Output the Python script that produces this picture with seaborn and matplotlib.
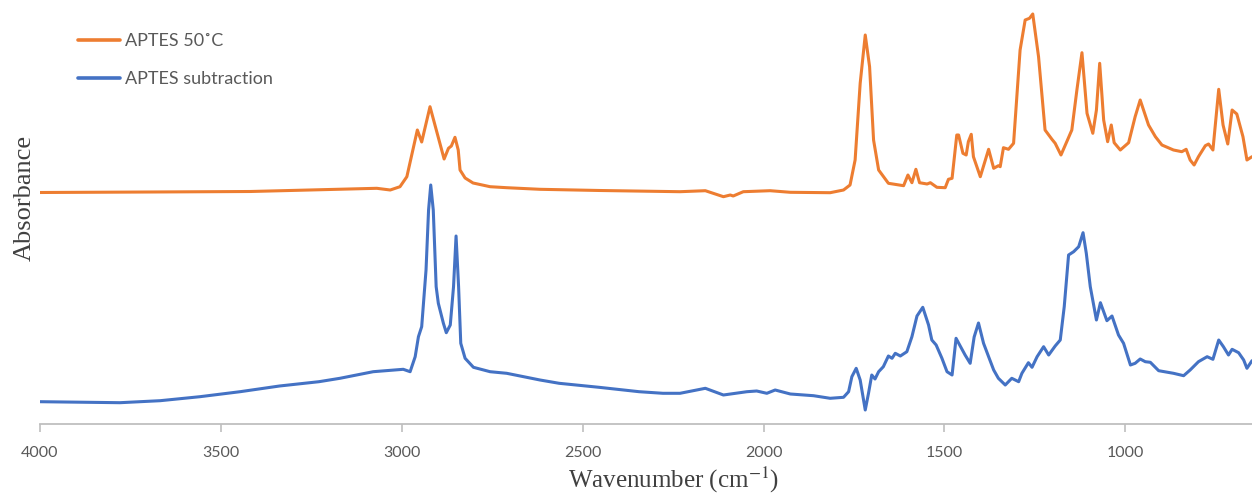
import numpy as np
import pandas as pd
import matplotlib
matplotlib.use("Agg")
import matplotlib.pyplot as plt
import seaborn as sns

# ---- data (wavenumber in cm-1, absorbance in arbitrary units) ----
aptes50_wn = [4000, 3696, 3419, 3069, 3032, 3005, 2986, 2957, 2945, 2922, 2883, 2871, 2863, 2853,
              2844, 2839, 2825, 2803, 2756, 2710, 2618, 2452, 2231, 2161, 2111, 2092, 2084, 2056,
              1982, 1926, 1816, 1779, 1761, 1747, 1733, 1719, 1707, 1696, 1682, 1655, 1613, 1601,
              1590, 1579, 1569, 1548, 1539, 1521, 1498, 1489, 1479, 1466, 1461, 1449, 1440, 1434,
              1426, 1420, 1401, 1378, 1364, 1351, 1346, 1337, 1323, 1309, 1291, 1277, 1265, 1256,
              1240, 1222, 1203, 1194, 1178, 1162, 1148, 1134, 1120, 1106, 1090, 1080, 1071, 1060,
              1049, 1039, 1031, 1014, 991, 973, 959, 936, 917, 899, 867, 844, 832, 821, 810, 798,
              779, 770, 758, 742, 730, 717, 705, 692, 675, 664, 650]
aptes50_abs = [2.315, 2.320, 2.325, 2.357, 2.340, 2.373, 2.473, 2.940, 2.820, 3.173, 2.650, 2.757,
               2.780, 2.867, 2.740, 2.540, 2.460, 2.410, 2.373, 2.363, 2.347, 2.335, 2.323, 2.333,
               2.273, 2.290, 2.280, 2.323, 2.333, 2.317, 2.313, 2.340, 2.390, 2.640, 3.407, 3.890,
               3.573, 2.840, 2.540, 2.407, 2.383, 2.490, 2.413, 2.547, 2.413, 2.400, 2.413, 2.367,
               2.363, 2.447, 2.457, 2.890, 2.890, 2.707, 2.690, 2.823, 2.897, 2.673, 2.473, 2.747,
               2.557, 2.583, 2.573, 2.763, 2.747, 2.807, 3.740, 4.040, 4.057, 4.100, 3.673, 2.940,
               2.847, 2.807, 2.690, 2.823, 2.940, 3.340, 3.713, 3.107, 2.907, 3.140, 3.607, 3.040,
               2.823, 2.990, 2.813, 2.740, 2.813, 3.073, 3.240, 2.990, 2.873, 2.790, 2.740, 2.723,
               2.747, 2.640, 2.590, 2.673, 2.783, 2.800, 2.740, 3.347, 2.990, 2.800, 3.140, 3.100,
               2.873, 2.640, 2.673]

subtr_wn = [4000, 3779, 3668, 3558, 3447, 3338, 3229, 3171, 3079, 2996, 2977, 2963, 2954, 2945,
            2933, 2926, 2920, 2913, 2905, 2899, 2885, 2877, 2866, 2857, 2850, 2843, 2837, 2825,
            2802, 2756, 2710, 2618, 2565, 2455, 2344, 2278, 2231, 2161, 2111, 2046, 2019, 1991,
            1968, 1926, 1862, 1816, 1779, 1765, 1756, 1744, 1733, 1719, 1710, 1701, 1692, 1682,
            1669, 1655, 1645, 1636, 1622, 1604, 1590, 1576, 1560, 1544, 1535, 1523, 1507, 1493,
            1479, 1468, 1458, 1443, 1429, 1418, 1406, 1392, 1378, 1364, 1351, 1332, 1314, 1295,
            1286, 1268, 1258, 1244, 1226, 1212, 1194, 1180, 1169, 1157, 1143, 1129, 1117, 1108,
            1097, 1080, 1069, 1051, 1037, 1019, 1005, 986, 973, 959, 945, 931, 908, 867, 839,
            821, 798, 774, 758, 742, 729, 715, 705, 687, 673, 664, 650]
subtr_abs = [0.223, 0.213, 0.233, 0.273, 0.323, 0.380, 0.423, 0.457, 0.523, 0.547, 0.523, 0.673,
             0.873, 0.973, 1.540, 2.140, 2.390, 2.140, 1.373, 1.207, 1.007, 0.913, 0.990, 1.373,
             1.880, 1.373, 0.807, 0.657, 0.567, 0.523, 0.507, 0.440, 0.407, 0.367, 0.323, 0.307,
             0.307, 0.357, 0.290, 0.323, 0.330, 0.307, 0.340, 0.300, 0.283, 0.257, 0.267, 0.323,
             0.473, 0.557, 0.440, 0.140, 0.307, 0.490, 0.450, 0.523, 0.573, 0.680, 0.657, 0.707,
             0.680, 0.723, 0.873, 1.080, 1.167, 0.990, 0.840, 0.790, 0.657, 0.523, 0.490, 0.857,
             0.790, 0.690, 0.607, 0.870, 1.010, 0.807, 0.673, 0.540, 0.457, 0.390, 0.457, 0.423,
             0.507, 0.613, 0.567, 0.673, 0.773, 0.690, 0.780, 0.840, 1.173, 1.690, 1.723, 1.773,
             1.913, 1.707, 1.373, 1.040, 1.213, 1.033, 1.080, 0.890, 0.807, 0.590, 0.607, 0.650,
             0.623, 0.617, 0.533, 0.507, 0.483, 0.540, 0.623, 0.673, 0.647, 0.840, 0.773, 0.690,
             0.747, 0.713, 0.640, 0.557, 0.633]

series_names = ["APTES 50˚C", "APTES subtraction"]
series_colors = ["#ED7D31", "#4472C4"]
x_ticks = [4000, 3500, 3000, 2500, 2000, 1500, 1000]

df = pd.concat([
    pd.DataFrame({"wn": aptes50_wn, "abs": aptes50_abs, "series": series_names[0]}),
    pd.DataFrame({"wn": subtr_wn, "abs": subtr_abs, "series": series_names[1]}),
], ignore_index=True)

sns.set_theme(style="white")
plt.rcParams["font.family"] = ["Lato", "DejaVu Sans"]
plt.rcParams["mathtext.fontset"] = "stix"

fig = plt.figure(figsize=(12.52, 4.95), dpi=100)
ax = fig.add_axes([40 / 1252, 71 / 495, 1 - 40 / 1252, 424 / 495])

sns.lineplot(data=df, x="wn", y="abs", hue="series", palette=series_colors,
             hue_order=series_names, estimator=None, sort=False, linewidth=2.2, ax=ax)
for ln in ax.get_lines():
    ln.set_solid_joinstyle("round")

ax.set_xlim(4000, 650)
ax.set_ylim(0, 4.24)
ax.set_xticks(x_ticks)
ax.set_xticklabels([str(t) for t in x_ticks])
ax.set_yticks([])
for s in ["top", "right", "left"]:
    ax.spines[s].set_visible(False)
ax.spines["bottom"].set_color("#BFBFBF")
ax.spines["bottom"].set_linewidth(1.3)
ax.tick_params(axis="x", which="both", bottom=True, direction="out", length=6, width=1.2,
               color="#BFBFBF", labelcolor="#595959", labelsize=11.5, pad=10)

ax.set_xlabel("")
ax.set_ylabel("")
fig.text(674 / 1252, 1 - 480 / 495, "Wavenumber (cm$^{-1}$)", family="Liberation Serif",
         fontsize=18, color="#404040", ha="center", va="center")
fig.text(25 / 1252, 1 - 198 / 495, "Absorbance", family="Liberation Serif",
         fontsize=19, color="#404040", ha="center", va="center", rotation=90)

leg = ax.legend(loc="upper left", bbox_to_anchor=(78 / 1252, 1 - 33 / 495),
                bbox_transform=fig.transFigure, frameon=False, fontsize=13,
                handlelength=2.3, handletextpad=0.3, labelspacing=1.22,
                borderaxespad=0, borderpad=0)
for t in leg.get_texts():
    t.set_color("#595959")
    t.set_family(["Lato", "DejaVu Sans"])
for h in leg.get_lines():
    h.set_linewidth(2.6)

fig.savefig("out.png", dpi=100)
